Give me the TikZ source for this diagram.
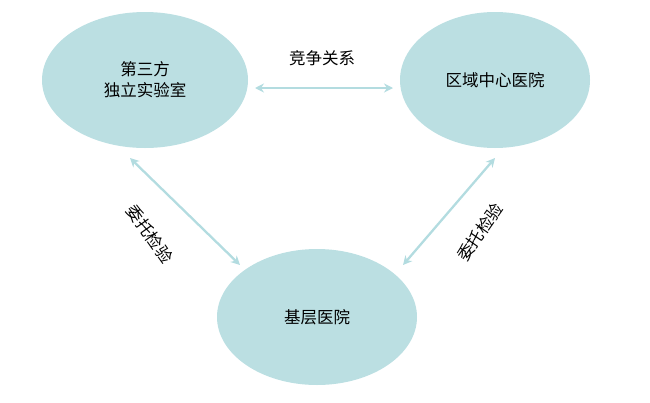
\documentclass[tikz,border=0pt]{standalone}
\usepackage{fontspec}
\setmainfont{Noto Sans CJK SC}
\usetikzlibrary{arrows.meta,shapes.geometric}
\definecolor{fillc}{HTML}{BBDFE2}
\definecolor{arrc}{HTML}{B3DCE0}
\begin{document}
\begin{tikzpicture}[x=1pt,y=-1pt,
  blob/.style={ellipse,fill=fillc,inner sep=0pt,font=\fontsize{16.5}{21}\selectfont,align=center},
  link/.style={draw=arrc,line width=2.3pt,{Stealth[length=9pt,width=9pt]}-{Stealth[length=9pt,width=9pt]}},
  lbl/.style={font=\fontsize{16.5}{20}\selectfont}]
\useasboundingbox (0,0) rectangle (650,402);
\node[blob,minimum width=206pt,minimum height=136pt] (lab) at (145,80) {第三方\\独立实验室};
\node[blob,minimum width=190pt,minimum height=136pt] (reg) at (495,80) {区域中心医院};
\node[blob,minimum width=200pt,minimum height=136pt] (base) at (317,317) {基层医院};
\coordinate (a1) at (255,88); \coordinate (a2) at (393,88);
\coordinate (b1) at (130,158); \coordinate (b2) at (240,265);
\coordinate (c1) at (495,158); \coordinate (c2) at (403,265);
\draw[link] (a1) -- (a2);
\draw[link] (b1) -- (b2);
\draw[link] (c1) -- (c2);
\node[lbl] (t1) at (322,58) {竞争关系};
\node[lbl,rotate=-55] (t2) at (150,234) {委托检验};
\node[lbl,rotate=55] (t3) at (480,232) {委托检验};
\end{tikzpicture}
\end{document}
